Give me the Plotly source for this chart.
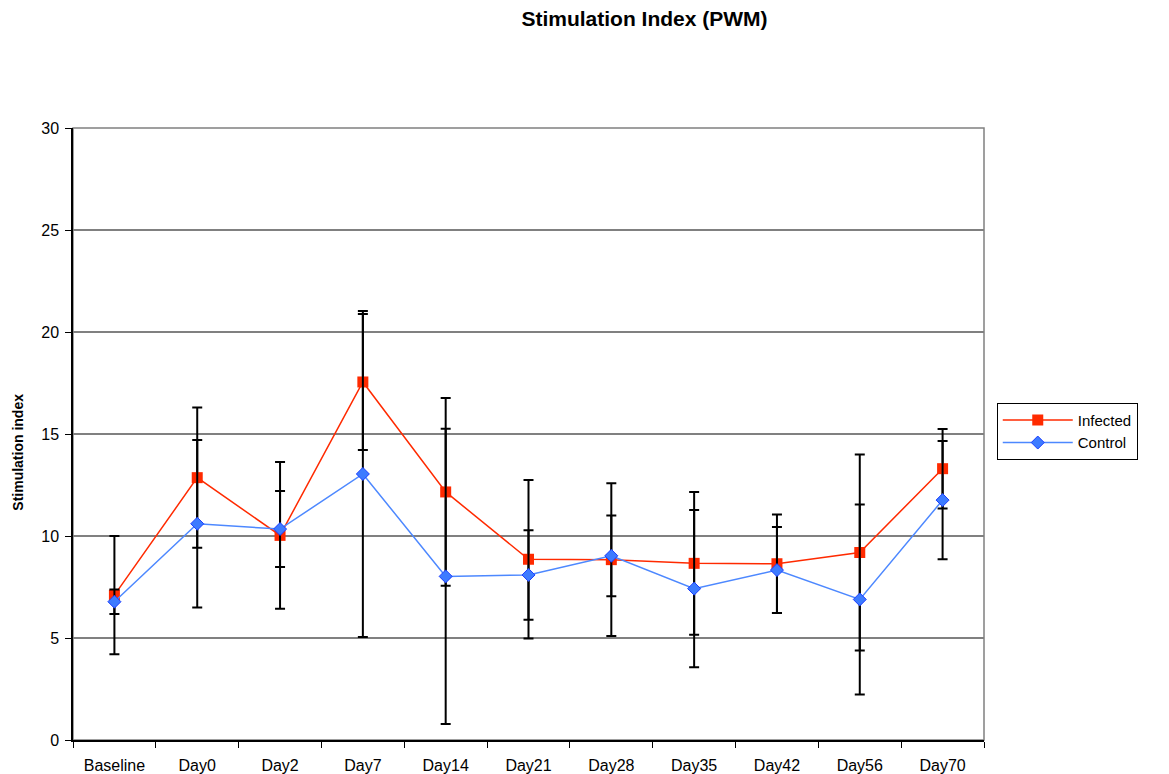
import plotly.graph_objects as go

days = ["Baseline", "Day0", "Day2", "Day7", "Day14", "Day21", "Day28",
        "Day35", "Day42", "Day56", "Day70"]

infected = [7.1, 12.86, 10.03, 17.55, 12.16, 8.86, 8.84, 8.66, 8.64, 9.19, 13.3]
infected_err = [2.9, 3.44, 3.6, 3.33, 4.6, 3.89, 3.74, 3.5, 2.42, 4.8, 1.95]

control = [6.78, 10.6, 10.34, 13.04, 8.02, 8.09, 9.03, 7.42, 8.33, 6.89, 11.76]
control_err = [0.6, 4.1, 1.86, 7.99, 7.24, 2.19, 1.98, 3.85, 2.11, 4.66, 2.9]

font = "Liberation Sans, Arial, sans-serif"

fig = go.Figure()

fig.add_trace(go.Scatter(
    x=days, y=infected, name="Infected", mode="lines+markers",
    line=dict(color="#FF2A00", width=1.5),
    marker=dict(symbol="square", size=11, color="#FF2A00"),
    error_y=dict(type="data", array=infected_err, color="black",
                 thickness=2, width=5),
))

fig.add_trace(go.Scatter(
    x=days, y=control, name="Control", mode="lines+markers",
    line=dict(color="#4D88FF", width=1.5),
    marker=dict(symbol="diamond", size=10, color="#3D7BFF",
                line=dict(color="#1A3DFF", width=1)),
    error_y=dict(type="data", array=control_err, color="black",
                 thickness=2, width=5),
))

# grey plot-area frame
fig.add_shape(type="rect", xref="paper", yref="paper", x0=0, y0=0, x1=1, y1=1,
              line=dict(color="#808080", width=1.5), layer="below")

# y-axis title, sits a bit below the plot centre like the original
fig.add_annotation(text="<b>Stimulation index</b>", textangle=-90,
                   xref="paper", yref="paper", x=-0.06, y=0.47,
                   xanchor="center", yanchor="middle", showarrow=False,
                   font=dict(family=font, size=14, color="black"))

fig.update_layout(
    width=1169, height=774,
    paper_bgcolor="white", plot_bgcolor="white",
    margin=dict(l=65, r=193, t=120, b=42),
    font=dict(family=font, size=16, color="black"),
    title=dict(text="<b>Stimulation Index (PWM)</b>", x=0.5445, xref="container",
               xanchor="center", y=0.986, yanchor="middle",
               font=dict(family=font, size=21, color="black")),
    showlegend=True,
    legend=dict(x=1.014, y=0.551, xanchor="left", yanchor="top",
                bordercolor="black", borderwidth=1, bgcolor="white",
                font=dict(family=font, size=15), itemwidth=70,
                tracegroupgap=0),
)

fig.update_xaxes(
    range=[-0.5, 10.5], showline=True, linecolor="black", linewidth=1.5,
    ticks="outside", tickson="boundaries", ticklen=6, tickcolor="black",
    showgrid=False, tickfont=dict(family=font, size=16),
    ticklabelstandoff=10, automargin=False,
)

fig.update_yaxes(
    range=[0, 30], dtick=5, showline=True, linecolor="black", linewidth=1.5,
    ticks="outside", ticklen=6, tickcolor="black",
    showgrid=True, gridcolor="#808080", gridwidth=1.5, zeroline=False,
    tickfont=dict(family=font, size=16), ticklabelstandoff=3, automargin=False,
)

fig.write_html("out.html")
